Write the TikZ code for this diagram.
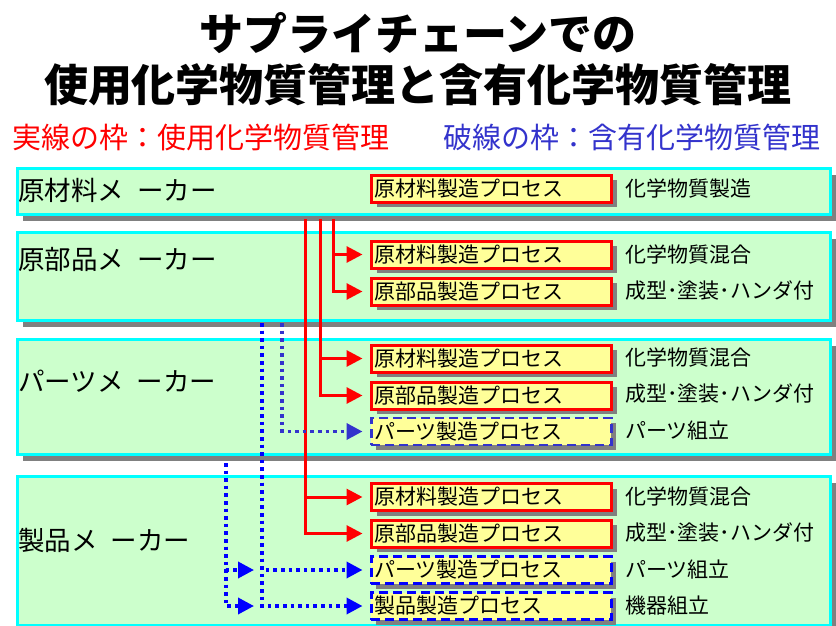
\documentclass[tikz,border=0pt]{standalone}
\usepackage{fontspec}
\setmainfont{Noto Sans CJK JP}
\usetikzlibrary{arrows.meta,shadows}
\definecolor{mkfill}{HTML}{CCFFCC}
\definecolor{mkborder}{HTML}{00FFFF}
\definecolor{pfill}{HTML}{FFFF99}
\definecolor{shade}{HTML}{808080}
\definecolor{blueA}{HTML}{3333CC}
\definecolor{blueB}{HTML}{0000FF}
\definecolor{redC}{HTML}{FF0000}
\tikzset{
  makerbox/.style={draw=mkborder, fill=mkfill, line width=3pt, minimum width=813pt,
    anchor=north west, inner sep=0pt,
    drop shadow={shadow xshift=5pt, shadow yshift=-6pt, fill=shade, opacity=1}},
  procbox/.style={fill=pfill, anchor=west, inner xsep=3pt, inner ysep=0pt,
    text width=234pt, minimum height=27pt, align=left,
    font=\fontsize{21}{24}\selectfont,
    drop shadow={shadow xshift=5pt, shadow yshift=-5pt, fill=shade, opacity=1}},
  redproc/.style={procbox, draw=redC, line width=3pt},
  blueproc/.style={procbox, draw=#1, line width=2.5pt, dash pattern=on 9pt off 5pt},
  makerlabel/.style={anchor=west, inner sep=0pt, font=\fontsize{26.5}{30}\selectfont},
  desc/.style={anchor=west, inner sep=0pt, font=\fontsize{21}{24}\selectfont},
  redline/.style={draw=redC, line width=3pt, shorten >=7.5pt,
    -{Triangle[length=16pt,width=16pt]}},
  blueline/.style={draw=#1, line width=3.6pt, dash pattern=on 3.6pt off 4pt,
    -{Triangle[length=16pt,width=16pt]}},
}
\begin{document}
\begin{tikzpicture}[x=1pt,y=-1pt]
\fill[white] (0,0) rectangle (836,626);
\useasboundingbox (0,0) rectangle (836,626);

% title
\node[font=\fontsize{44}{48}\selectfont\bfseries, inner sep=0pt] (t1) at (418,33) {サプライチェーンでの};
\node[font=\fontsize{44}{48}\selectfont\bfseries, inner sep=0pt] (t2) at (418,85) {使用化学物質管理と含有化学物質管理};
\node[anchor=west, inner sep=0pt, text=redC, font=\fontsize{29}{32}\selectfont] (s1) at (12,137) {実線の枠：使用化学物質管理};
\node[anchor=west, inner sep=0pt, text=blueA, font=\fontsize{29}{32}\selectfont] (s2) at (443,137) {破線の枠：含有化学物質管理};

% maker boxes
\node[makerbox, minimum height=46pt] (m1) at (16,167) {};
\node[makerbox, minimum height=88pt] (m2) at (16,231) {};
\node[makerbox, minimum height=115pt] (m3) at (16,338) {};
\node[makerbox, minimum height=149pt] (m4) at (16,475) {};

\node[makerlabel] (l1) at (18,190) {原材料メ\hspace{0.5em}ーカー};
\node[makerlabel] (l2) at (18,259) {原部品メ\hspace{0.5em}ーカー};
\node[makerlabel] (l3) at (18,381) {パーツメ\hspace{0.5em}ーカー};
\node[makerlabel] (l4) at (18,540) {製品メ\hspace{0.5em}ーカー};

% process boxes
\node[redproc] (p1) at (370,188.5) {原材料製造プロセス};
\node[redproc] (p21) at (370,254.5) {原材料製造プロセス};
\node[redproc] (p22) at (370,291.5) {原部品製造プロセス};
\node[redproc] (p31) at (370,358.5) {原材料製造プロセス};
\node[redproc] (p32) at (370,395.5) {原部品製造プロセス};
\node[blueproc=blueA] (p33) at (370,431.5) {パーツ製造プロセス};
\node[redproc] (p41) at (370,497) {原材料製造プロセス};
\node[redproc] (p42) at (370,533.5) {原部品製造プロセス};
\node[blueproc=blueB] (p43) at (370,570) {パーツ製造プロセス};
\node[blueproc=blueB] (p44) at (370,606) {製品製造プロセス};

% descriptions
\node[desc] (d1) at (625,188) {化学物質製造};
\node[desc] (d21) at (625,254) {化学物質混合};
\node[desc] (d22) at (625,291) {成型･塗装･ハンダ付};
\node[desc] (d31) at (625,357) {化学物質混合};
\node[desc] (d32) at (625,394) {成型･塗装･ハンダ付};
\node[desc] (d33) at (625,431) {パーツ組立};
\node[desc] (d41) at (625,496) {化学物質混合};
\node[desc] (d42) at (625,533) {成型･塗装･ハンダ付};
\node[desc] (d43) at (625,570) {パーツ組立};
\node[desc] (d44) at (625,606) {機器組立};

% red connectors
\coordinate (ra) at (333,219);
\coordinate (rb) at (320,219);
\coordinate (rc) at (305,219);
\draw[redline] (ra) |- (p21.west);
\draw[redline] (ra) |- (p22.west);
\draw[redline] (rb) |- (p31.west);
\draw[redline] (rb) |- (p32.west);
\draw[redline] (rc) |- (p41.west);
\draw[redline] (rc) |- (p42.west);

% blue connectors
\coordinate (ba) at (282,323);
\coordinate (bb) at (262,323);
\coordinate (bc) at (226,463);
\coordinate (bc1) at (254,570);
\coordinate (bc2) at (254,606);
\draw[blueline=blueA, shorten >=7.5pt] (ba) |- (p33.west);
\draw[blueline=blueB, shorten >=7.5pt] (bb) |- (p43.west);
\draw[blueline=blueB, shorten >=7.5pt] (bb) |- (p44.west);
\draw[blueline=blueB] (bc) |- (bc1);
\draw[blueline=blueB] (bc) |- (bc2);
\end{tikzpicture}
\end{document}
